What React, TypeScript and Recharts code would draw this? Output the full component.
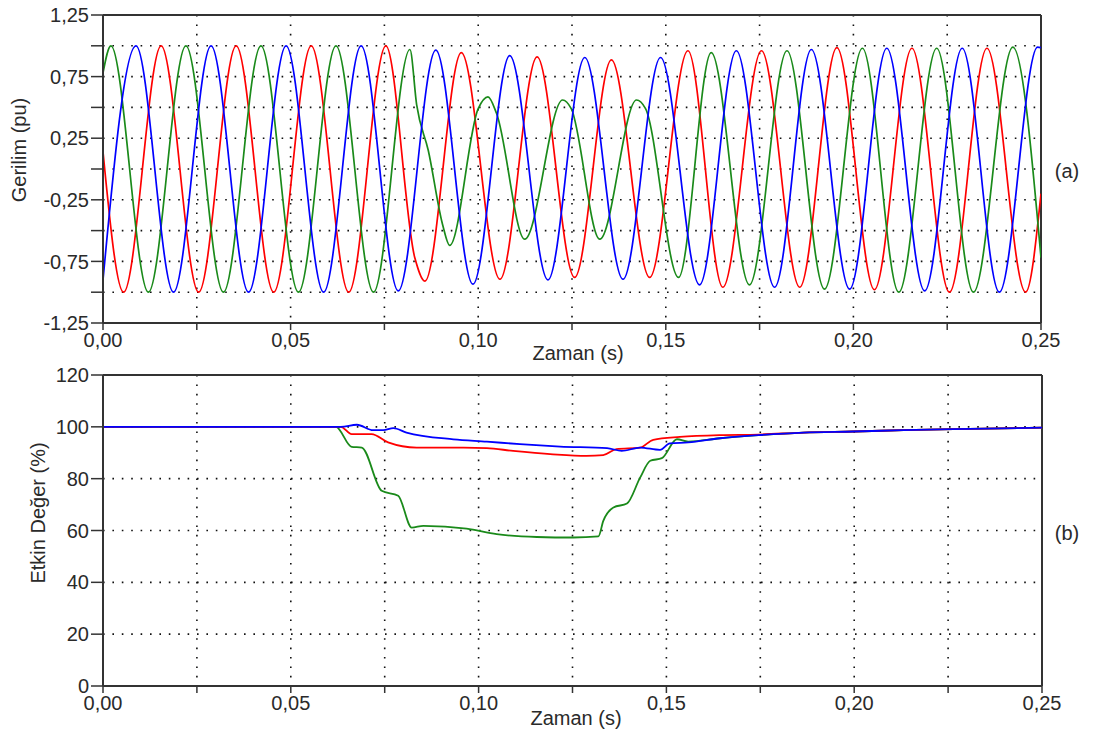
import React from 'react';
import { LineChart, Line, XAxis, YAxis, CartesianGrid, ReferenceLine } from 'recharts';

// ---- (a) phase voltages, time in ms, value in pu (extrema & shape points)
const redT = [0, 5.5, 15.5, 25.5, 35.5, 45.5, 55.5, 65.5, 75.4, 83.1, 85.8, 95.5, 105.8, 115.7, 125.7, 135.5, 145.7, 155.9, 165.2, 175.5, 185.7, 195.6, 205.6, 215.6, 225.6, 235.6, 245.9, 250];
const redV = [0.14, -1, 1, -1, 1, -1, 1, -1, 1, -0.72, -0.91, 0.945, -0.895, 0.91, -0.88, 0.885, -0.88, 0.96, -0.96, 0.96, -0.96, 0.985, -0.98, 0.98, -1, 0.98, -1, -0.2];

const greenT = [0, 2.1, 12.1, 22.1, 32.1, 42.1, 52.1, 62.1, 72.1, 81.8, 83.6, 86.7, 90.5, 92.4, 100.0, 102.6, 104.9, 112.4, 122.5, 124.8, 132.4, 142.2, 144.6, 153.4, 162.1, 172.3, 182.3, 192.3, 202.4, 212.1, 222.2, 232.0, 242.5, 250];
const greenV = [0.78, 1, -1, 1, -1, 1, -1, 1, -1, 0.97, 0.52, 0.15, -0.45, -0.62, 0.49, 0.585, 0.45, -0.57, 0.56, 0.49, -0.57, 0.56, 0.49, -0.88, 0.945, -0.94, 0.96, -0.975, 0.98, -1, 0.98, -1, 0.99, -0.72];

const blueT = [0, 8.8, 18.8, 28.8, 38.8, 48.8, 58.8, 68.8, 78.7, 88.7, 98.6, 108.4, 118.6, 128.4, 138.6, 148.6, 159.0, 168.8, 179.0, 188.8, 199.0, 208.9, 219.0, 229.0, 238.9, 249.1, 250];
const blueV = [-0.9, 1, -1, 1, -1, 1, -1, 1, -0.99, 0.965, -0.935, 0.92, -0.9, 0.905, -0.895, 0.905, -0.94, 0.96, -0.96, 0.97, -0.975, 0.98, -0.99, 0.98, -1, 0.99, 0.985];

// ---- (b) RMS values, time in ms, value in %
const greenRmsT = [0, 62.0, 66.2, 68.9, 74.2, 78.6, 82.2, 85.3, 96.8, 104.8, 115.5, 125.2, 131.9, 133.2, 135.9, 139.5, 143.0, 145.7, 148.8, 152.8, 155.8, 164.3, 174.5, 186.5, 199.8, 213.1, 226.4, 250];
const greenRmsV = [100, 100, 92.3, 92, 75.3, 73.4, 61.1, 61.8, 60.7, 58.6, 57.5, 57.3, 57.7, 63.7, 68.9, 70.4, 80.4, 86.9, 87.9, 95.2, 94.3, 95.6, 96.8, 97.8, 98.2, 98.7, 99.1, 99.7];

const redRmsT = [0, 63.3, 66.2, 71.5, 75.9, 83.5, 96.0, 102.2, 109.2, 119.8, 128.7, 133.2, 136.7, 143.0, 146.5, 153.6, 164.3, 174.5, 186.5, 199.8, 213.1, 226.4, 250];
const redRmsV = [100, 100, 97.2, 97.2, 94, 92, 92, 91.8, 90.7, 89.4, 88.8, 89.1, 91.4, 92, 95, 96.1, 96.8, 97, 97.8, 98.2, 98.7, 99.1, 99.7];

const blueRmsT = [0, 63.3, 67.6, 71.9, 74.6, 77.3, 80.8, 93.3, 102.2, 111.0, 121.7, 134.2, 138.1, 143.0, 148.3, 150.9, 155.8, 164.3, 174.5, 186.5, 199.8, 213.1, 226.4, 250];
const blueRmsV = [100, 100, 100.8, 98.7, 98.7, 99.5, 97.8, 95.2, 94.3, 93.3, 92.4, 91.8, 90.7, 92, 91.1, 93.6, 94, 95.6, 96.8, 97.8, 98.2, 98.7, 99.1, 99.7];

// ---- ticks
const xTicks = [0, 0.025, 0.05, 0.075, 0.1, 0.125, 0.15, 0.175, 0.2, 0.225, 0.25];
const vTicks = [-1.25, -1, -0.75, -0.5, -0.25, 0, 0.25, 0.5, 0.75, 1, 1.25];
const rmsTicks = [0, 20, 40, 60, 80, 100, 120];

const build = (t: number[], v: number[]) => t.map((x, i) => ({ t: x / 1000, v: v[i] }));

const FONT = '"Liberation Sans", Arial, sans-serif';
const TXT = '#2a2a2a';
const AX = '#333';
const RED = '#ff0000';
const GREEN = '#1a8a1a';
const BLUE = '#0000ff';

const fmtX = (v: number) => (Math.round(v * 40) % 2 === 0 ? v.toFixed(2).replace('.', ',') : '');
const fmtV = (v: number) => (Math.abs(Math.round(v * 4)) % 2 === 1 ? v.toFixed(2).replace('.', ',') : '');

const tickStyle = { fill: TXT, fontSize: 20, fontFamily: FONT };

const Title = ({ x, y, rot, children }: { x: number; y: number; rot?: boolean; children: React.ReactNode }) => (
  <div
    style={{
      position: 'absolute',
      left: x,
      top: y,
      transform: `translate(-50%, -50%)${rot ? ' rotate(-90deg)' : ''}`,
      whiteSpace: 'nowrap',
      fontFamily: FONT,
      fontSize: 20,
      color: TXT,
      lineHeight: 1,
    }}
  >
    {children}
  </div>
);

export default function App() {
  const red = build(redT, redV);
  const green = build(greenT, greenV);
  const blue = build(blueT, blueV);
  const gR = build(greenRmsT, greenRmsV);
  const rR = build(redRmsT, redRmsV);
  const bR = build(blueRmsT, blueRmsV);

  return (
    <div style={{ position: 'absolute', left: 0, top: 0, width: 1093, height: 735, background: '#fff', overflow: 'hidden' }}>
      <div style={{ position: 'absolute', left: 0, top: 0 }}>
        <LineChart width={1093} height={360} margin={{ top: 15, right: 52, left: 43, bottom: 7 }}>
          <CartesianGrid stroke="#111" strokeWidth={1.6} strokeDasharray="1.6 7.8" />
          <XAxis
            type="number"
            dataKey="t"
            domain={[0, 0.25]}
            ticks={xTicks}
            tickFormatter={fmtX}
            allowDataOverflow
            height={30}
            tickSize={7}
            tickMargin={3}
            tick={tickStyle}
            axisLine={{ stroke: AX, strokeWidth: 2 }}
            tickLine={{ stroke: AX, strokeWidth: 1.5 }}
            interval={0}
          />
          <YAxis
            type="number"
            domain={[-1.25, 1.25]}
            ticks={vTicks}
            tickFormatter={fmtV}
            allowDataOverflow
            width={60}
            tickSize={12}
            tickMargin={2}
            tick={tickStyle}
            axisLine={{ stroke: AX, strokeWidth: 2 }}
            tickLine={{ stroke: AX, strokeWidth: 1.5 }}
            interval={0}
          />
          <ReferenceLine y={1.25} stroke={AX} strokeWidth={2} />
          <ReferenceLine x={0.25} stroke={AX} strokeWidth={2} />
          <Line data={red} dataKey="v" type="monotone" stroke={RED} strokeWidth={1.7} dot={false} isAnimationActive={false} />
          <Line data={green} dataKey="v" type="monotone" stroke={GREEN} strokeWidth={1.7} dot={false} isAnimationActive={false} />
          <Line data={blue} dataKey="v" type="monotone" stroke={BLUE} strokeWidth={1.7} dot={false} isAnimationActive={false} />
        </LineChart>
      </div>
      <div style={{ position: 'absolute', left: 0, top: 360 }}>
        <LineChart width={1093} height={375} margin={{ top: 15, right: 51, left: 43, bottom: 19 }}>
          <CartesianGrid stroke="#111" strokeWidth={1.6} strokeDasharray="1.6 7.8" />
          <XAxis
            type="number"
            dataKey="t"
            domain={[0, 0.25]}
            ticks={xTicks}
            tickFormatter={fmtX}
            allowDataOverflow
            height={30}
            tickSize={7}
            tickMargin={3}
            tick={tickStyle}
            axisLine={{ stroke: AX, strokeWidth: 2 }}
            tickLine={{ stroke: AX, strokeWidth: 1.5 }}
            interval={0}
          />
          <YAxis
            type="number"
            domain={[0, 120]}
            ticks={rmsTicks}
            allowDataOverflow
            width={60}
            tickSize={12}
            tickMargin={2}
            tick={tickStyle}
            axisLine={{ stroke: AX, strokeWidth: 2 }}
            tickLine={{ stroke: AX, strokeWidth: 1.5 }}
            interval={0}
          />
          <ReferenceLine y={120} stroke={AX} strokeWidth={2} />
          <ReferenceLine x={0.25} stroke={AX} strokeWidth={2} />
          <Line data={gR} dataKey="v" type="monotone" stroke={GREEN} strokeWidth={1.8} dot={false} isAnimationActive={false} />
          <Line data={rR} dataKey="v" type="monotone" stroke={RED} strokeWidth={1.8} dot={false} isAnimationActive={false} />
          <Line data={bR} dataKey="v" type="monotone" stroke={BLUE} strokeWidth={1.8} dot={false} isAnimationActive={false} />
        </LineChart>
      </div>
      <Title x={18.5} y={150} rot>Gerilim (pu)</Title>
      <Title x={37.5} y={513} rot>Etkin Değer (%)</Title>
      <Title x={578} y={353}>Zaman (s)</Title>
      <Title x={576} y={718}>Zaman (s)</Title>
      <Title x={1067} y={171}>(a)</Title>
      <Title x={1067} y={533}>(b)</Title>
    </div>
  );
}
